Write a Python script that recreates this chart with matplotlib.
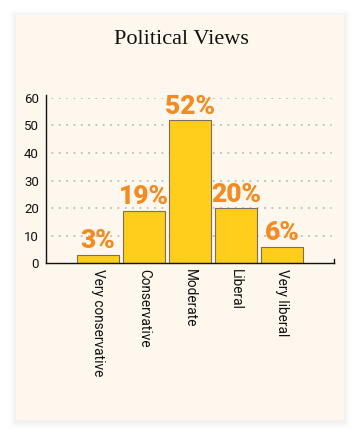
import matplotlib
matplotlib.use("Agg")
import matplotlib.pyplot as plt
from matplotlib.patches import Rectangle
from matplotlib.lines import Line2D

categories = ["Very conservative", "Conservative", "Moderate", "Liberal", "Very liberal"]
values = [3, 19, 52, 20, 6]
yticks = [0, 10, 20, 30, 40, 50, 60]
title = "Political Views"

W, H = 362, 436
fig = plt.figure(figsize=(W / 100, H / 100), dpi=100)
fig.patch.set_facecolor("white")

# card shadow
cx0, cy0, cx1, cy1 = 16, 15, 344, 420
for i, a in enumerate([0.010, 0.010, 0.008, 0.008, 0.006, 0.005, 0.004]):
    d = i + 1
    fig.patches.append(Rectangle(((cx0 - d) / W, 1 - (cy1 + d + 1.5) / H),
                                 (cx1 - cx0 + 2 * d) / W, (cy1 - cy0 + 2 * d) / H,
                                 transform=fig.transFigure, facecolor="black",
                                 alpha=a, edgecolor="none", zorder=-3))
fig.patches.append(Rectangle((cx0 / W, 1 - cy1 / H), (cx1 - cx0) / W, (cy1 - cy0) / H,
                             transform=fig.transFigure, facecolor="#fdf7ed",
                             edgecolor="none", zorder=-2))

fig.text(181 / W, 1 - 40 / H, title, ha="center", va="center",
         fontsize=16, family="Liberation Serif", color="#111111")

ax_l, ax_r, ax_t, ax_b = 46, 334, 98, 263
ax = fig.add_axes([ax_l / W, 1 - ax_b / H, (ax_r - ax_l) / W, (ax_b - ax_t) / H])
ax.set_facecolor("none")
ax.set_zorder(2)
x = list(range(len(categories)))
pad = 1.13
ax.set_xlim(-pad, len(categories) - 1 + pad)
ax.set_ylim(0, 60)

for y in yticks[1:]:
    ax.plot([-1.0, len(categories) - 1 + 1.07], [y, y], linestyle=(0, (0.5, 4.3)),
            color="#b0b0b0", linewidth=1.1, zorder=1, dash_capstyle="round")

bars = ax.bar(x, values, width=42 / 46, color="#ffcd1c", edgecolor="#7b705a",
              linewidth=0.8, zorder=2)
for xi, v in zip(x, values):
    ax.annotate(f"{v}%", (xi, v), xytext=(0, 1.0), textcoords="offset points",
                ha="center", va="bottom", fontsize=19, fontweight=900,
                family="Roboto", color="#f28c22", zorder=3, annotation_clip=False)

for s in ["top", "right"]:
    ax.spines[s].set_visible(False)
ax.spines["left"].set_color("#111111")
ax.spines["bottom"].set_color("#111111")
ax.spines["left"].set_linewidth(1.0)
ax.spines["bottom"].set_linewidth(1.0)
ax.spines["left"].set_bounds(0, 61)
ax.set_yticks(yticks)
ax.set_yticklabels([str(t) for t in yticks], fontsize=9.5, family="Roboto", color="#111111")
ax.tick_params(axis="y", length=0, pad=5)
ax.set_xticks(x)
ax.set_xticklabels(categories, rotation=-90, ha="center", va="top",
                   fontsize=9.8, family="Roboto", color="#111111")
ax.tick_params(axis="x", length=0, pad=4)
ax.add_line(Line2D([1, 1], [0, 0.025], transform=ax.transAxes, color="#111111",
                   linewidth=1.0, clip_on=False))

fig.savefig("out.png", dpi=100, facecolor="white")
